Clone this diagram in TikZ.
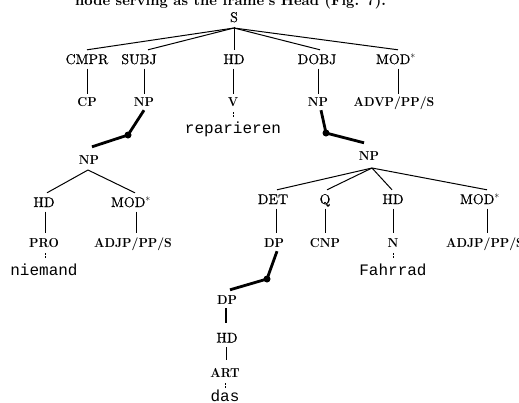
\documentclass[tikz,border=0pt]{standalone}
\usepackage{fontspec}
\newfontfamily\monof{Liberation Mono}
\newfontfamily\fnf{lmroman10-regular.otf}[FakeBold=0.45]
\newfontfamily\catf{lmroman10-bold.otf}[FakeStretch=0.92]
\newfontfamily\topf{lmroman10-bold.otf}
\begin{document}
\begin{tikzpicture}[x=1pt,y=-1pt,
  fn/.style={font=\fnf\fontsize{14}{14}\selectfont, inner xsep=0pt, inner ysep=4.5pt, text height=9.5pt, text depth=0pt, anchor=base},
  cat/.style={font=\catf\fontsize{13}{13}\selectfont, inner xsep=0pt, inner ysep=3.5pt, text height=9pt, text depth=0pt, anchor=base},
  word/.style={font=\monof\fontsize{16}{16}\selectfont, inner sep=0pt, text height=10pt, text depth=0pt, anchor=base},
  edge/.style={line width=1pt},
  heavy/.style={line width=2.8pt},
  dotn/.style={circle, fill, inner sep=0pt, minimum size=7pt},
  tick/.style={line width=0.9pt, dash pattern=on 2pt off 1pt}]
\useasboundingbox (0,0) rectangle (519,402);
\clip (0,0) rectangle (519,402);

% clipped running text at the top
\node[anchor=base west, inner sep=0pt, font=\topf\fontsize{14.5}{14.5}\selectfont] (toptext) at (75,5) {node serving as the frame's Head (Fig. 7).};

% root
\node[fn] (S) at (234,22) {S};
\coordinate (Sj) at (234,28);
\node[fn] (cmpr) at (87,64) {CMPR};
\node[fn] (subj) at (139,64) {SUBJ};
\node[fn] (hdS) at (234,64) {HD};
\node[fn] (dobj) at (317,64) {DOBJ};
\node[fn] (modS) at (396,64) {MOD$^{*}$};
\draw[edge] (Sj) -- (cmpr.north);
\draw[edge] (Sj) -- ([xshift=9pt]subj.north);
\draw[edge] (S.south) -- (hdS.north);
\draw[edge] (Sj) -- ([xshift=3pt]dobj.north);
\draw[edge] (Sj) -- ([xshift=2pt]modS.north);

\node[cat] (cp) at (87,106.5) {CP};
\node[cat] (npS) at (144,106.5) {NP};
\node[cat] (v) at (233,106.5) {V};
\node[cat] (npO) at (318,106.5) {NP};
\node[cat] (advp) at (394,106.5) {ADVP/PP/S};
\draw[edge] (cmpr.south) -- (cp.north);
\draw[edge] (subj.south -| npS.north) -- (npS.north);
\draw[edge] (hdS.south -| v.north) -- (v.north);
\draw[edge] (dobj.south -| npO.north) -- (npO.north);
\draw[edge] ([xshift=2pt]modS.south) -- ([xshift=4pt]advp.north);

\node[word] (rep) at (233,133) {reparieren};
\draw[tick] ([yshift=-2pt]v.south) -- ([yshift=5pt]rep.north);

% subject NP
\node[dotn] (d1) at (128,135) {};
\node[cat] (npL) at (89,164.5) {NP};
\draw[heavy] (npS.south) -- (d1.center) -- ([xshift=3pt,yshift=5pt]npL.north);
\coordinate (npLj) at (88,170);
\node[fn] (hdL) at (44,207) {HD};
\node[fn] (modL) at (131,207) {MOD$^{*}$};
\draw[edge] (npLj) -- ([xshift=3pt]hdL.north);
\draw[edge] (npLj) -- ([xshift=4pt]modL.north);
\node[cat] (pro) at (44,247.5) {PRO};
\node[cat] (adjpL) at (133,247.5) {ADJP/PP/S};
\draw[edge] ([xshift=1pt]hdL.south) -- ([xshift=1pt,yshift=2pt]pro.north);
\draw[edge] ([xshift=5pt]modL.south) -- ([xshift=3pt,yshift=2pt]adjpL.north);
\node[word] (nie) at (44,275) {niemand};
\draw[tick] ([xshift=1pt,yshift=-2pt]pro.south) -- ([xshift=1pt,yshift=7pt]nie.north);

% object NP
\node[dotn] (d2) at (326,133) {};
\node[cat] (npR) at (369,160.5) {NP};
\draw[heavy] ([xshift=3pt]npO.south) -- (d2.center) -- ([xshift=-5pt,yshift=5pt]npR.north);
\coordinate (npRj) at (372,168);
\node[fn] (det) at (273,204) {DET};
\node[fn] (q) at (325,204) {Q};
\node[fn] (hdR) at (393,204) {HD};
\node[fn] (modR) at (480,204) {MOD$^{*}$};
\draw[edge] (npRj) -- ([xshift=4pt]det.north);
\draw[edge] (npRj) -- ([xshift=2pt]q.north);
\draw[edge] (npRj) -- ([xshift=-1pt]hdR.north);
\draw[edge] (npRj) -- ([xshift=7pt]modR.north);
\node[cat] (dpU) at (274,247.5) {DP};
\node[cat] (cnp) at (325,247.5) {CNP};
\node[cat] (n) at (393,247.5) {N};
\node[cat] (adjpR) at (485,247.5) {ADJP/PP/S};
\draw[edge] ([xshift=3pt]det.south) -- ([xshift=2pt,yshift=2pt]dpU.north);
\draw[edge] (q.south) -- ([yshift=2pt]cnp.north);
\draw[edge] (hdR.south) -- ([yshift=2pt]n.north);
\draw[edge] ([xshift=7pt]modR.south) -- ([xshift=2pt,yshift=2pt]adjpR.north);
\node[word] (fahr) at (393,275) {Fahrrad};
\draw[tick] ([yshift=-2pt]n.south) -- ([yshift=7pt]fahr.north);

% determiner DP
\node[dotn] (d3) at (267,279) {};
\node[cat] (dpL) at (227,304.5) {DP};
\draw[heavy] ([xshift=3pt]dpU.south) -- (d3.center) -- ([xshift=3pt,yshift=2pt]dpL.north);
\node[fn] (hdD) at (227,342.5) {HD};
\draw[line width=1.4pt] ([xshift=-1pt]dpL.south) -- ([xshift=-1pt,yshift=5pt]hdD.north);
\node[cat] (art) at (225,377.5) {ART};
\draw[edge] ([xshift=-1pt]hdD.south) -- ([xshift=1pt,yshift=5pt]art.north);
\node[word] (das) at (225,401) {das};
\draw[tick] ([yshift=-2pt]art.south) -- ([yshift=3pt]das.north);
\end{tikzpicture}
\end{document}
